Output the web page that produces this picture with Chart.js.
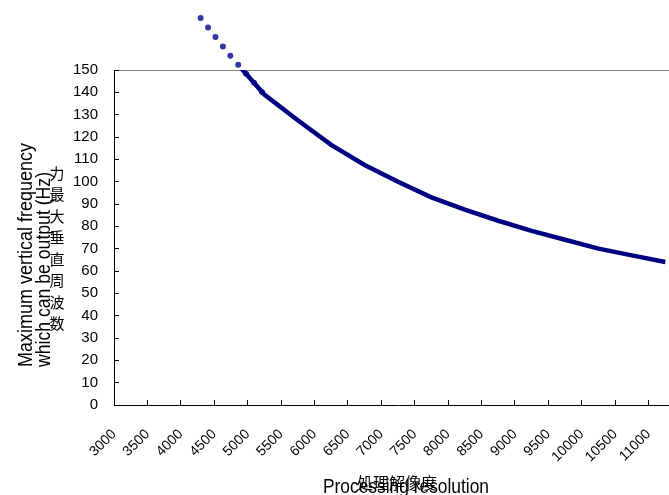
<!DOCTYPE html>
<html>
<head>
<meta charset="utf-8">
<script src="https://cdn.jsdelivr.net/npm/chart.js@4.4.1/dist/chart.umd.min.js"></script>
<style>
  html, body { margin: 0; padding: 0; background: #fff; overflow: hidden; }
  #wrap { width: 700px; height: 495px; }
</style>
</head>
<body>
<div id="wrap"><canvas id="chart" width="700" height="495"></canvas></div>
<script>
// processing resolution categories (x axis)
const resolutions = ["3000", "3500", "4000", "4500", "5000", "5500", "6000", "6500", "7000",
  "7500", "8000", "8500", "9000", "9500", "10000", "10500", "11000"];

// max vertical frequency (Hz)
const maxFrequency = [null, null, 175, 156, 139, 127.5, 116.5, 107.5, 100, 93, 87.5, 82.5, 78, 74, 70, 67, 64];

// the part of the curve that runs above the 150 line (drawn dotted)
const overflowFrequency = [null, null, 175, 156, 139, null, null, null, null, null, null, null, null, null, null, null, null];

const yTicks = { min: 0, max: 150, step: 10 };

const yTitleLines = ["Maximum vertical frequency", "which can be output (Hz)"];
const yTitleJa = "力最大垂直周波数";
const xTitle = "Processing resolution";
const xTitleJa = "処理解像度";

const latin = "'Liberation Sans', Arial, sans-serif";
const cjk = "'Noto Sans CJK JP', sans-serif";

const titlesPlugin = {
  id: "titles",
  afterDraw(chart) {
    const ctx = chart.ctx;
    ctx.save();
    ctx.fillStyle = "#000";

    // rotated english y title, both lines start at the same point
    ctx.font = `20px ${latin}`;
    ctx.textAlign = "left";
    ctx.textBaseline = "alphabetic";
    [[32, 224], [50, 195]].forEach(([bx, maxW], i) => {
      ctx.save();
      ctx.translate(bx, 367);
      ctx.rotate(-Math.PI / 2);
      ctx.fillText(yTitleLines[i], 0, 0, maxW);
      ctx.restore();
    });

    // japanese y title, stacked vertically
    ctx.font = `15px ${cjk}`;
    ctx.textAlign = "center";
    ctx.textBaseline = "middle";
    Array.from(yTitleJa).forEach((ch, i) => {
      ctx.fillText(ch, 57, 173 + i * 21.5);
    });

    // x title, english and japanese on top of each other
    ctx.font = `20px ${latin}`;
    ctx.textAlign = "left";
    ctx.textBaseline = "alphabetic";
    ctx.fillText(xTitle, 323, 493, 166);
    ctx.font = `16px ${cjk}`;
    ctx.textAlign = "center";
    ctx.textBaseline = "middle";
    ctx.fillText(xTitleJa, 397, 483);
    ctx.restore();
  },
};

new Chart(document.getElementById("chart"), {
  type: "line",
  data: {
    labels: resolutions,
    datasets: [
      {
        data: maxFrequency,
        borderColor: "#000080",
        borderWidth: 4.5,
        pointRadius: 0,
        tension: 0,
        order: 1,
      },
      {
        data: overflowFrequency,
        borderColor: "#3535a2",
        borderWidth: 6,
        borderDash: [0, 12],
        borderDashOffset: 7,
        borderCapStyle: "round",
        pointRadius: 0,
        tension: 0,
        clip: false,
        order: 2,
      },
    ],
  },
  options: {
    responsive: false,
    animation: false,
    events: [],
    layout: { padding: { top: 70, right: 18, left: 0, bottom: 0 } },
    plugins: { legend: { display: false }, tooltip: { enabled: false } },
    scales: {
      x: {
        type: "category",
        offset: true,
        grid: { offset: true, drawOnChartArea: false, color: "#000", tickLength: -5 },
        border: { color: "#000", width: 1 },
        ticks: {
          autoSkip: false,
          minRotation: 45,
          maxRotation: 45,
          labelOffset: -16.7,
          padding: 26,
          color: "#000",
          font: { family: latin, size: 14 },
        },
        afterFit: (scale) => {
          scale.height = 90;
          scale.paddingLeft = 0;
          scale.paddingRight = 0;
        },
      },
      y: {
        min: yTicks.min,
        max: yTicks.max,
        ticks: {
          stepSize: yTicks.step,
          padding: 21,
          color: "#000",
          font: { family: latin, size: 15 },
        },
        grid: {
          color: (c) => (c.tick && c.tick.value === yTicks.max ? "#808080" : "rgba(0,0,0,0)"),
          tickColor: "#000",
          tickLength: -5,
        },
        border: { color: "#000", width: 1 },
        afterFit: (scale) => {
          scale.width = 114;
          scale.paddingTop = 0;
          scale.paddingBottom = 0;
        },
      },
    },
  },
  plugins: [titlesPlugin],
});
</script>
</body>
</html>
